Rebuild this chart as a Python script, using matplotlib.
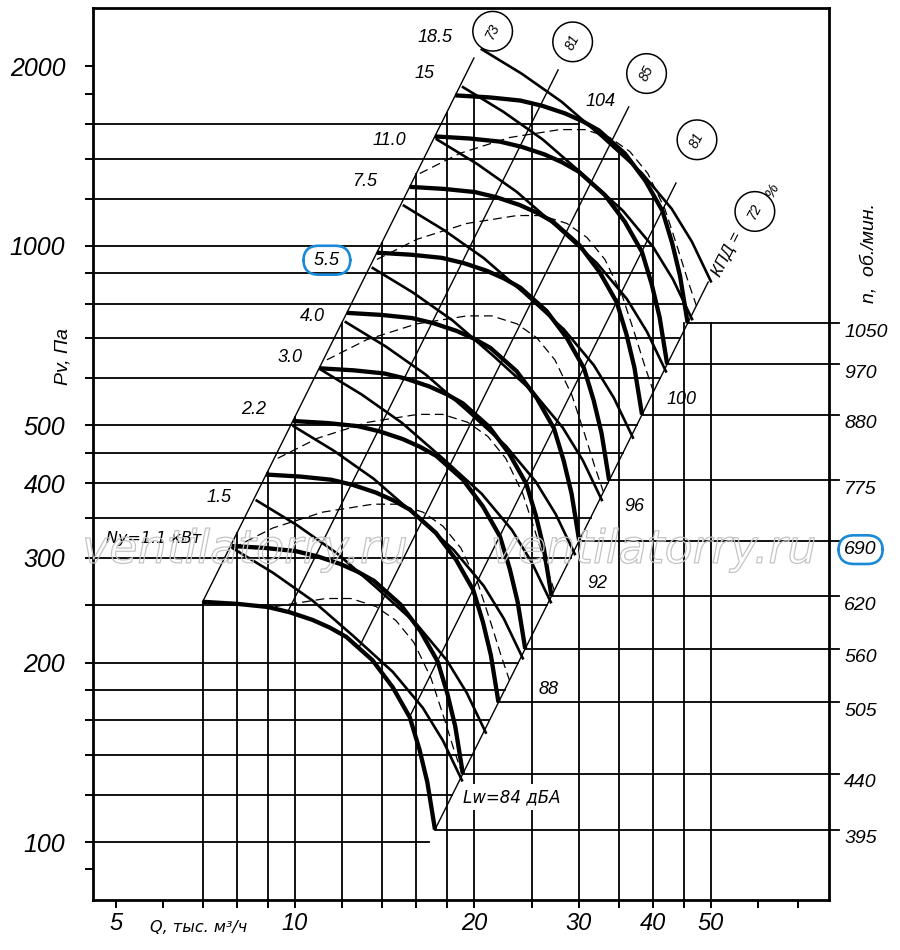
import numpy as np
import matplotlib
matplotlib.use('Agg')
import matplotlib.pyplot as plt
import matplotlib.patheffects as pe
from matplotlib.patches import Polygon
from matplotlib.ticker import NullLocator

plt.rcParams['font.family'] = ['Liberation Sans', 'DejaVu Sans']
plt.rcParams['font.style'] = 'italic'

# ---- values: Q in thousand m3/h, Pv in Pa ----

# P-Q curve at the lowest speed; the other speeds follow the fan laws (Q ~ n, P ~ n^2)
q_base = [7.0, 8.0, 9.0, 9.8, 10.7, 11.45, 12.2, 13.5, 14.6, 15.6, 16.2, 16.7, 17.2]
p_base = [253, 251, 248, 243, 236, 229, 221, 202, 182, 162, 143, 126, 105]
rpm = [395, 440, 505, 560, 620, 690, 775, 880, 970, 1050]

# motor power line for 1.1 kW; the others are the same line moved along P ~ Q^2
q_pow = [7.87, 9.19, 10.72, 12.52, 14.61, 16.41, 17.74, 19.09]
p_pow = [311, 283, 254, 222, 193, 168, 148, 127]
pow_labels = ['Ny=1.1 кВт', '1.5', '2.2', '3.0', '4.0', '5.5', '7.5', '11.0', '15', '18.5']
pow_q0 = [7.87, 8.63, 9.96, 11.10, 12.18, 13.52, 15.25, 17.33, 19.17, 20.62]

# dashed curves
q_dash = [11.32, 13.21, 16.03, 19.46, 21.43, 23.61, 25.51, 27.35, 29.21, 30.72, 31.93, 33.05]
p_dash = [644, 696, 740, 763, 763, 740, 701, 644, 562, 482, 426, 385]
dash_q0 = [6.56, 7.87, 9.36, 11.32, 13.74, 16.22]

# efficiency lines (P ~ Q^2): flow where each crosses p_base[0], and flow at the top end
eff_labels = ['73', '81', '85', '81', '72']
eff_q_ref = [7.0, 9.92, 14.0, 19.47, 26.7]
eff_q_top = [20.0, 27.7, 36.4, 43.7, 49.5]

noise_labels = ['Lw=84 дБА', '88', '92', '96', '100', '104']

grid_q = [7, 8, 9, 10, 12, 14, 16, 18, 20, 25, 30, 35, 40, 45, 50]
grid_p = [100, 120, 140, 160, 180, 200, 250, 300, 350, 400, 450, 500,
          600, 700, 800, 900, 1000, 1200, 1400, 1600]
x_ticks = [5, 6, 7, 8, 9, 10, 12, 14, 16, 18, 20, 25, 30, 35, 40, 45, 50, 60, 70]
x_tick_labels = ['5', '', '', '', '', '10', '', '', '', '', '20', '', '30', '', '40', '', '50', '', '']
y_ticks = [90, 100, 120, 140, 160, 180, 200, 250, 300, 350, 400, 450, 500,
           600, 700, 800, 900, 1000, 1200, 1400, 1600, 1800, 2000]
y_tick_labels = ['', '100', '', '', '', '', '200', '', '300', '', '400', '', '500',
                 '', '', '', '', '1000', '', '', '', '', '2000']

# ---- figure ----
fig = plt.figure(figsize=(9, 9.5), dpi=100)
ax = fig.add_axes([93 / 900, 50 / 950, 736 / 900, 892 / 950])
ax.set_xscale('log')
ax.set_yscale('log')
ax.set_xlim(4.58, 79.0)
ax.set_ylim(80, 2505)

qb = np.array(q_base, float)
pb = np.array(p_base, float)
k_top = rpm[-1] / rpm[0]
q_top, p_top = qb * k_top, pb * k_top ** 2
c_left = pb[0] / qb[0] ** 2
cyr = ['DejaVu Sans']   # keeps upright-style т and д in the slanted text


def q_right(p):
    return qb[-1] * np.sqrt(p / pb[-1])


def p_on_top(q):
    return 10 ** np.interp(np.log10(q), np.log10(q_top), np.log10(p_top))


def q_on_top(p):
    return 10 ** np.interp(np.log10(p), np.log10(p_top[::-1]), np.log10(q_top[::-1]))


# grid
grid_kw = dict(color='black', lw=1.3, zorder=1)
for p in grid_p:
    if p <= p_top[-1]:
        q_end = q_right(p)
    else:
        q_end = max(g for g in grid_q if g < q_on_top(p))
    ax.plot([4.0, q_end], [p, p], **grid_kw)

for q in grid_q:
    if q <= q_top[0]:
        p_end = c_left * q ** 2
    elif q < 0.97 * q_top[-1]:
        p_end = p_on_top(q)
    else:
        p_end = p_top[-1]
    ax.plot([q, q], [70, p_end], **grid_kw)

# speed lines to the right axis
for n in rpm:
    k = n / rpm[0]
    ax.plot([qb[-1] * k, 82.0], [pb[-1] * k * k] * 2, color='black', lw=1.3,
            clip_on=False, zorder=1)
    ax.annotate(str(n), xy=(1, pb[-1] * k * k), xycoords=('axes fraction', 'data'),
                xytext=(11, -6.5), textcoords='offset points', ha='left', va='center',
                fontsize=14, annotation_clip=False,
                bbox=(dict(boxstyle='round,pad=0.3,rounding_size=0.8', fc='none',
                           ec='#1b8ad6', lw=1.9) if n == 690 else None))

# efficiency lines, starting on the lowest speed curve
lq, lp = np.log10(qb), np.log10(pb)
qq = np.logspace(lq[0], lq[-1], 600)
pp = 10 ** np.interp(np.log10(qq), lq, lp)
for q_ref, q_hi in zip(eff_q_ref, eff_q_top):
    c = pb[0] / q_ref ** 2
    i = np.argmin(np.abs(np.log10(pp) - np.log10(c * qq ** 2)))
    ax.plot([qq[i], q_hi], [c * qq[i] ** 2, c * q_hi ** 2], color='black', lw=1.0, zorder=2)

# dashed curves, clipped to the working area
p_hi = 5000
region = Polygon(np.vstack([np.column_stack([qb, pb]),
                            [[q_right(p_hi), p_hi], [np.sqrt(p_hi / c_left), p_hi]]]),
                 closed=True, transform=ax.transData, fc='none', ec='none')
for q0 in dash_q0:
    k = q0 / q_dash[0]
    ln, = ax.plot(np.array(q_dash) * k, np.array(p_dash) * k * k, color='black',
                  lw=0.9, dashes=(7, 4), zorder=2)
    ln.set_clip_path(region)

# power lines
for q0 in pow_q0:
    k = q0 / q_pow[0]
    ax.plot(np.array(q_pow) * k, np.array(p_pow) * k * k, color='black', lw=1.9,
            zorder=3, solid_joinstyle='round')

# fan curves
for n in rpm:
    k = n / rpm[0]
    ax.plot(qb * k, pb * k * k, color='black', lw=3.1, zorder=4,
            solid_joinstyle='round', solid_capstyle='butt')

# labels of power lines
pow_pos = [(5.8, 323), (7.45, 379), (8.53, 531), (9.81, 649), (10.72, 760),
           (11.32, 946), (13.11, 1283), (14.39, 1500), (16.54, 1942), (17.19, 2232)]
for lab, (x, y) in zip(pow_labels, pow_pos):
    kw = dict(fontsize=13)
    if lab == '5.5':
        lab = ' 5.5 '
        kw['bbox'] = dict(boxstyle='round,pad=0.33,rounding_size=0.85', fc='none',
                          ec='#1b8ad6', lw=1.9)
    if lab.startswith('Ny'):
        kw = dict(fontsize=11.5, family=cyr)
    ax.text(x, y, lab, ha='center', va='center', zorder=6, **kw)

# noise labels
noise_pos = [(23.6, 119), (26.7, 180), (32.2, 272), (37.2, 365), (44.6, 552), (32.6, 1743)]
for lab, (x, y) in zip(noise_labels, noise_pos):
    kw = dict(fontsize=13)
    if lab.startswith('Lw'):
        kw = dict(fontsize=12, family=cyr,
                  bbox=dict(boxstyle='square,pad=0.25', fc='white', ec='none'))
        lab = lab + '  '
    ax.text(x, y, lab, ha='center', va='center', zorder=6, **kw)

# efficiency labels in circles
eff_pos = [(21.5, 2290), (29.3, 2198), (39.0, 1945), (47.4, 1506), (59.3, 1142)]
for lab, (x, y) in zip(eff_labels, eff_pos):
    ax.text(x, y, lab, fontsize=10, rotation=63, ha='center', va='center',
            rotation_mode='anchor', zorder=6,
            bbox=dict(boxstyle='circle,pad=0.87', fc='white', ec='black', lw=1.1))
ax.text(53.3, 967, 'КПД =', fontsize=12, rotation=63, ha='center', va='center', zorder=6)
ax.text(63.4, 1240, '%', fontsize=11, rotation=63, ha='center', va='center', zorder=6)

# axes styling
ax.set_xticks(x_ticks, labels=x_tick_labels)
ax.set_yticks(y_ticks, labels=y_tick_labels)
ax.xaxis.set_minor_locator(NullLocator())
ax.yaxis.set_minor_locator(NullLocator())
ax.tick_params(axis='both', direction='out', length=6, width=1.4, color='black')
ax.tick_params(axis='x', labelsize=17, pad=3)
ax.tick_params(axis='y', labelsize=18, pad=14)
for s in ax.spines.values():
    s.set_linewidth(2.0)
    s.set_zorder(5)

ax.text(-0.041, 0.609, 'Pv, Па', transform=ax.transAxes, rotation=90,
        fontsize=14, ha='center', va='center')
ax.text(1.054, 0.725, 'n,  об./мин.', transform=ax.transAxes, rotation=90,
        fontsize=14, ha='center', va='center')
ax.text(0.143, -0.031, 'Q, тыс. м³/ч', transform=ax.transAxes,
        fontsize=11.5, family=cyr, ha='center', va='center')

# watermark
for xa in (0.207, 0.762):
    ax.text(xa, 0.392, 'ventilatorry.ru', transform=ax.transAxes, fontsize=33,
            family='DejaVu Sans', style='italic', color=(1, 1, 1, 0),
            ha='center', va='center', zorder=7,
            path_effects=[pe.Stroke(linewidth=0.9, foreground='#c4c4c4'), pe.Normal()])

fig.savefig('out.png', dpi=100, facecolor='white')
